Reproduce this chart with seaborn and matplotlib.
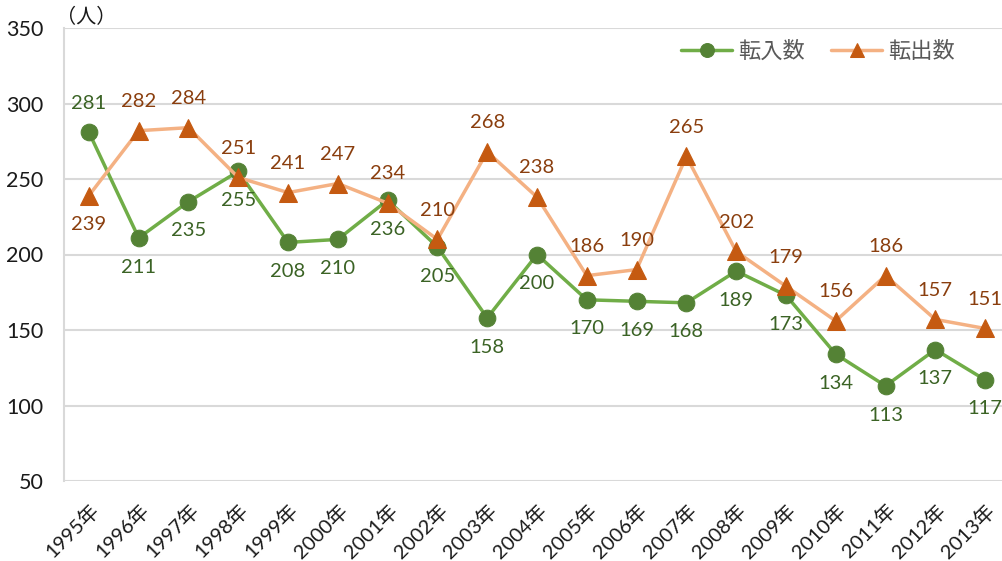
import numpy as np
import pandas as pd
import matplotlib.pyplot as plt
import seaborn as sns

# ---- data -------------------------------------------------------
years = [f"{y}年" for y in range(1995, 2014)]
tennyu = [281, 211, 235, 255, 208, 210, 236, 205, 158, 200,
          170, 169, 168, 189, 173, 134, 113, 137, 117]
tenshutsu = [239, 282, 284, 251, 241, 247, 234, 210, 268, 238,
             186, 190, 265, 202, 179, 156, 186, 157, 151]
# label placement: +1 above, -1 below
tennyu_pos = [1, -1, -1, -1, -1, -1, -1, -1, -1, -1,
              -1, -1, -1, -1, -1, -1, -1, -1, -1]
tenshutsu_pos = [-1, 1, 1, 1, 1, 1, 1, 1, 1, 1,
                 1, 1, 1, 1, 1, 1, 1, 1, 1]

sns.set_style("white")
plt.rcParams['font.family'] = ['Lato', 'Noto Sans CJK JP', 'DejaVu Sans']

df = pd.DataFrame({'x': np.arange(len(years)),
                   '転入数': tennyu, '転出数': tenshutsu})

fig = plt.figure(figsize=(10.03, 5.61), dpi=100)
ax = fig.add_axes([64 / 1003, 1 - 481 / 561, 946 / 1003, 453 / 561])

sns.lineplot(data=df, x='x', y='転入数', ax=ax, color='#70AD47',
             linewidth=2.5, marker='o', markersize=12,
             markerfacecolor='#548235', markeredgecolor='#548235',
             label='転入数', zorder=3)
sns.lineplot(data=df, x='x', y='転出数', ax=ax, color='#F4B183',
             linewidth=2.5, marker='^', markersize=13,
             markerfacecolor='#C55A11', markeredgecolor='#C55A11',
             label='転出数', zorder=3)

for i, (v, p) in enumerate(zip(tennyu, tennyu_pos)):
    ax.annotate(str(v), (i, v), xytext=(0, 21 * p), textcoords='offset points',
                ha='center', va='center', fontsize=14.5, color='#3B6325')
for i, (v, p) in enumerate(zip(tenshutsu, tenshutsu_pos)):
    ax.annotate(str(v), (i, v), xytext=(0, 21 * p), textcoords='offset points',
                ha='center', va='center', fontsize=14.5, color='#8A3E0E')

ax.set_xlim(-0.5, len(years) - 0.5)
ax.set_ylim(50, 350)
ax.set_yticks(range(50, 351, 50))
ax.set_xticks(df['x'])
ax.set_xticklabels(years, rotation=45, ha='right', rotation_mode='anchor')
ax.tick_params(axis='x', length=0, labelsize=14.5, colors='#1a1a1a', pad=14)
ax.tick_params(axis='y', length=0, labelsize=15.5, colors='#1a1a1a', pad=15)
ax.set_xlabel('')
ax.set_ylabel('')
ax.grid(axis='y', color='#D9D9D9', linewidth=1.5)
for s in ['top', 'right', 'bottom']:
    ax.spines[s].set_visible(False)
ax.spines['left'].set_color('#D9D9D9')
ax.spines['left'].set_linewidth(1.5)

fig.text(56 / 1003, 1 - 16 / 561, '（人）', fontsize=14.5, va='center', ha='left',
         color='#1a1a1a')

leg = ax.legend(loc='upper right', bbox_to_anchor=(0.951, 0.991), ncol=2,
                frameon=False, fontsize=16, handlelength=2.3,
                columnspacing=1.2, handletextpad=0.25, borderaxespad=0)
for t in leg.get_texts():
    t.set_color('#595959')
for h in leg.legend_handles:
    h.set_markersize(10)

fig.savefig('out.png', dpi=100)
